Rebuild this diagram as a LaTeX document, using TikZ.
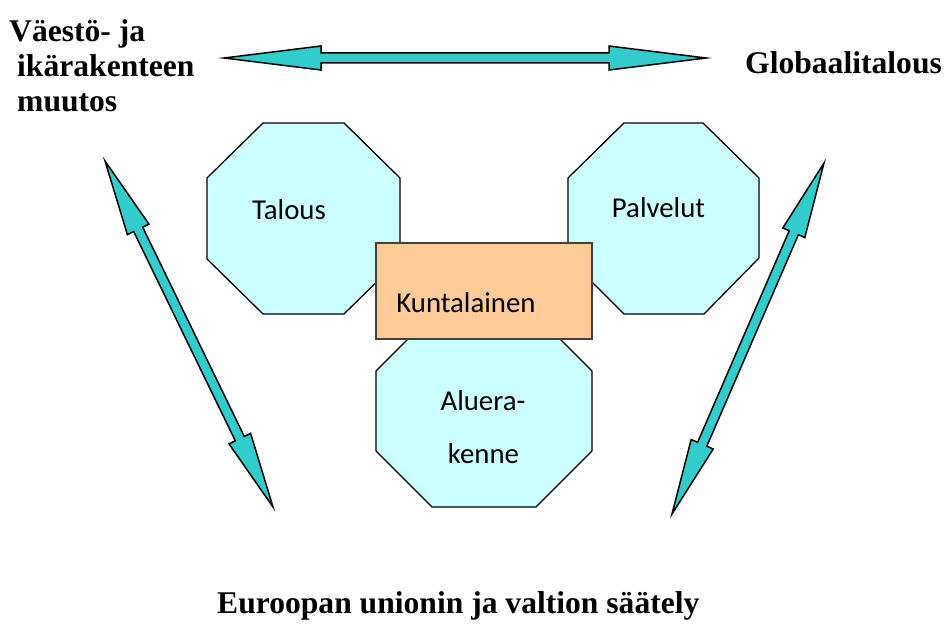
\documentclass[tikz,border=0pt]{standalone}
\usepackage{fontspec}
\setmainfont{Liberation Serif}
\newfontfamily\calibrifont{Carlito}
\usetikzlibrary{calc}
\definecolor{octfill}{HTML}{CCFFFF}
\definecolor{rectfill}{HTML}{FFCC99}
\definecolor{arrfill}{HTML}{33CCCC}
\tikzset{
  octa/.style={draw=black, fill=octfill, line width=1.3pt, line join=miter},
  kbox/.style={draw=black!75, fill=rectfill, line width=1.3pt},
  arrowfill/.style={draw=black, fill=arrfill, line width=1.5pt, line join=miter},
  headtext/.style={font=\fontsize{31.6}{35}\selectfont\bfseries, inner sep=0pt, anchor=base west},
  boxtext/.style={font=\calibrifont\fontsize{28.8}{34}\selectfont, inner sep=0pt, anchor=base}
}
% double block arrow between two named coordinates: #3 = head length
\newcommand\dblarrow[3]{%
  \path[arrowfill] (#1)
   -- ($ ($(#1)!#3pt!(#2)$)!12pt!90:(#2) $)
   -- ($ ($(#1)!#3pt!(#2)$)!5pt!90:(#2) $)
   -- ($ ($(#2)!#3pt!(#1)$)!5pt!-90:(#1) $)
   -- ($ ($(#2)!#3pt!(#1)$)!12pt!-90:(#1) $)
   -- (#2)
   -- ($ ($(#2)!#3pt!(#1)$)!12pt!90:(#1) $)
   -- ($ ($(#2)!#3pt!(#1)$)!5pt!90:(#1) $)
   -- ($ ($(#1)!#3pt!(#2)$)!5pt!-90:(#2) $)
   -- ($ ($(#1)!#3pt!(#2)$)!12pt!-90:(#2) $)
   -- cycle;}
\begin{document}
\begin{tikzpicture}[x=1pt,y=-1pt]
\useasboundingbox (0,0) rectangle (946,626);

% arrows
\coordinate (ta) at (224,58);
\coordinate (tb) at (706,58);
\coordinate (la) at (105,161);
\coordinate (lb) at (273,507);
\coordinate (ra) at (824,163);
\coordinate (rb) at (672,514);
\dblarrow{ta}{tb}{97}
\dblarrow{la}{lb}{76}
\dblarrow{ra}{rb}{76}

% octagons
\draw[octa] (263,123) -- (344,123) -- (400,178) -- (400,259) -- (344,314) -- (263,314) -- (207,259) -- (207,178) -- cycle;
\draw[octa] (624,123) -- (703,123) -- (759,178) -- (759,258) -- (704,314) -- (624,314) -- (568,258) -- (568,178) -- cycle;
\draw[octa] (432,315) -- (536,315) -- (592,371) -- (592,451) -- (536,507) -- (432,507) -- (376,451) -- (376,371) -- cycle;

% Kuntalainen box
\draw[kbox] (376,243) rectangle (592,339);

% box texts
\node[boxtext] (talous) at (289,219) {Talous};
\node[boxtext] (palvelut) at (658.5,217) {Palvelut};
\node[boxtext] (kunta) at (466,312) {Kuntalainen};
\node[boxtext] (alue1) at (483,410) {Aluera-};
\node[boxtext] (alue2) at (483.5,463) {kenne};

% heading texts
\node[headtext] (vj1) at (9,42) {Väestö- ja};
\node[headtext] (vj2) at (17,77) {ikärakenteen};
\node[headtext] (vj3) at (17,112) {muutos};
\node[headtext] (glob) at (745,74) {Globaalitalous};
\node[headtext] (eu) at (217,613) {Euroopan unionin ja valtion säätely};
\end{tikzpicture}
\end{document}
